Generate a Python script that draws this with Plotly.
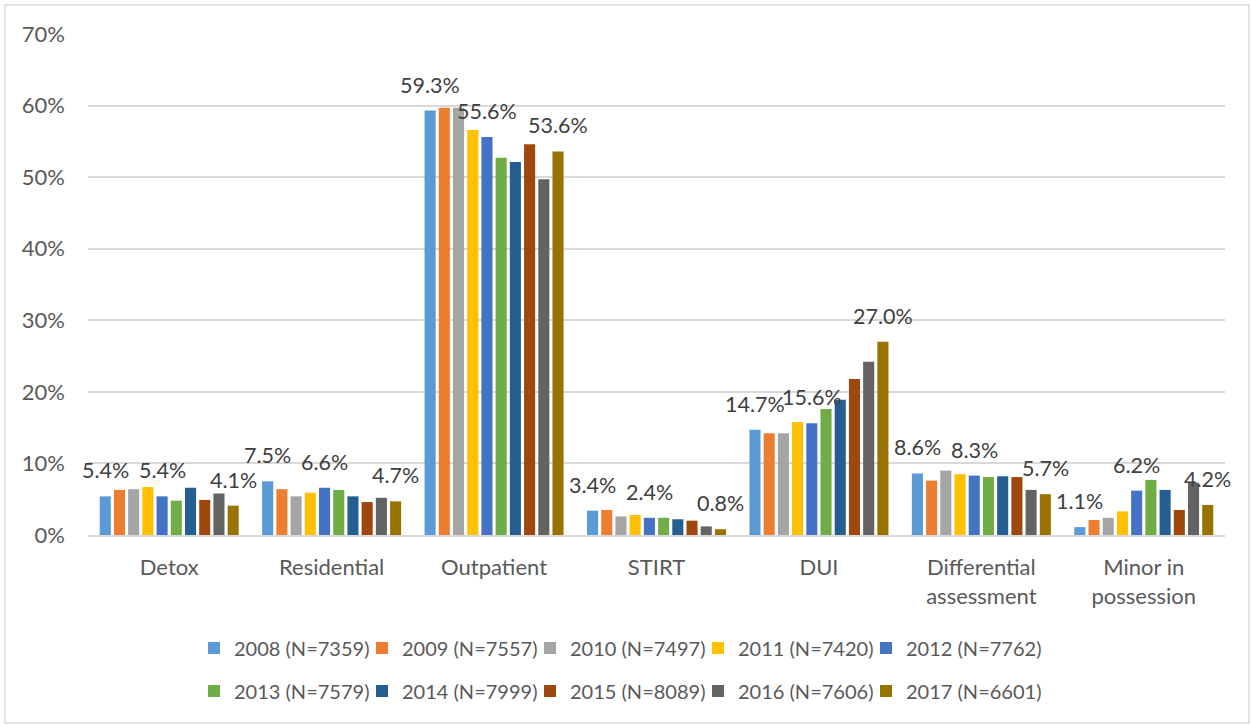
import plotly.graph_objects as go

# Share of admissions by service type and year (percent)
categories = ["Detox", "Residential", "Outpatient", "STIRT", "DUI",
              "Differential<br>assessment", "Minor in<br>possession"]

years = ["2008 (N=7359)", "2009 (N=7557)", "2010 (N=7497)", "2011 (N=7420)",
         "2012 (N=7762)", "2013 (N=7579)", "2014 (N=7999)", "2015 (N=8089)",
         "2016 (N=7606)", "2017 (N=6601)"]

v2008 = [5.4, 7.5, 59.3, 3.4, 14.7, 8.6, 1.1]
v2009 = [6.3, 6.4, 59.7, 3.5, 14.2, 7.6, 2.1]
v2010 = [6.4, 5.4, 59.7, 2.6, 14.2, 9.0, 2.4]
v2011 = [6.7, 5.9, 56.6, 2.8, 15.8, 8.5, 3.3]
v2012 = [5.4, 6.6, 55.6, 2.4, 15.6, 8.3, 6.2]
v2013 = [4.8, 6.3, 52.7, 2.4, 17.6, 8.1, 7.7]
v2014 = [6.6, 5.4, 52.1, 2.2, 18.9, 8.2, 6.3]
v2015 = [4.9, 4.6, 54.6, 2.0, 21.8, 8.1, 3.5]
v2016 = [5.8, 5.2, 49.7, 1.2, 24.2, 6.3, 7.3]
v2017 = [4.1, 4.7, 53.6, 0.8, 27.0, 5.7, 4.2]

series = [v2008, v2009, v2010, v2011, v2012, v2013, v2014, v2015, v2016, v2017]

colors = ["#5B9BD5", "#ED7D31", "#A5A5A5", "#FFC000", "#4472C4",
          "#70AD47", "#255E91", "#9E480E", "#636363", "#997300"]

# Years whose values are printed above the bars
labelled = [0, 4, 9]

W, H = 1251, 725
ml, mr, mt, mb = 88, 26, 34, 190
plot_w = W - ml - mr
plot_h = H - mt - mb
bargap = 0.125
FONT = "Lato, Carlito, 'Open Sans', sans-serif"

fig = go.Figure()
for i, (name, vals, col) in enumerate(zip(years, series, colors)):
    fig.add_trace(go.Bar(
        x=list(range(len(categories))), y=vals, name=name,
        marker=dict(color=col, line=dict(width=0)),
        legend="legend" if i < 5 else "legend2",
        hoverinfo="skip",
    ))

# Blank trailing entries so the last label of each legend row is not clipped
for leg in ("legend", "legend2"):
    fig.add_trace(go.Scatter(
        x=[None], y=[None], mode="markers", name=" ", legend=leg,
        marker=dict(color="rgba(0,0,0,0)", size=1), hoverinfo="skip",
    ))

# Value labels centred above the selected bars
slot = (1 - bargap) / len(series)
annotations = []
for i in labelled:
    for j, v in enumerate(series[i]):
        annotations.append(dict(
            x=j + (i - (len(series) - 1) / 2) * slot, y=v, xref="x", yref="y",
            text=f"{v:.1f}%", showarrow=False, yanchor="middle", yshift=26,
            font=dict(family=FONT, size=21.5, color="#404040"),
        ))

def px_to_paper_x(px):
    return (px - ml) / plot_w

def px_to_paper_y(py):
    return (H - mb - py) / plot_h

legend_common = dict(
    orientation="h", xanchor="left", yanchor="middle",
    x=px_to_paper_x(194), entrywidth=123, entrywidthmode="pixels",
    font=dict(family=FONT, size=20, color="#595959"),
    bgcolor="rgba(0,0,0,0)", traceorder="normal",
)

fig.update_layout(
    width=W, height=H,
    margin=dict(l=ml, r=mr, t=mt, b=mb),
    paper_bgcolor="white", plot_bgcolor="white",
    barmode="group", bargap=bargap, bargroupgap=0.22,
    font=dict(family=FONT, color="#595959"),
    showlegend=True,
    legend=dict(**legend_common, y=px_to_paper_y(648)),
    legend2=dict(**legend_common, y=px_to_paper_y(691)),
    annotations=annotations,
    xaxis=dict(
        tickmode="array", tickvals=list(range(len(categories))), ticktext=categories,
        range=[-0.5, len(categories) - 0.5],
        showgrid=False, showline=True, linecolor="#D9D9D9", linewidth=2,
        ticks="", ticklabelstandoff=12,
        tickfont=dict(family=FONT, size=22, color="#595959"),
        fixedrange=True,
    ),
    yaxis=dict(
        range=[0, 70], dtick=10, ticksuffix="%",
        showgrid=True, gridcolor="#D9D9D9", gridwidth=1.5,
        zeroline=False, showline=False, ticks="", ticklabelstandoff=22,
        tickfont=dict(family=FONT, size=22, color="#595959"),
        fixedrange=True,
    ),
    shapes=[dict(
        type="rect", xref="paper", yref="paper", layer="below",
        x0=px_to_paper_x(5), x1=px_to_paper_x(W - 2),
        y0=px_to_paper_y(H - 2), y1=px_to_paper_y(5),
        line=dict(color="#D9D9D9", width=1.5), fillcolor="rgba(0,0,0,0)",
    )],
)

fig.write_html("out.html")
